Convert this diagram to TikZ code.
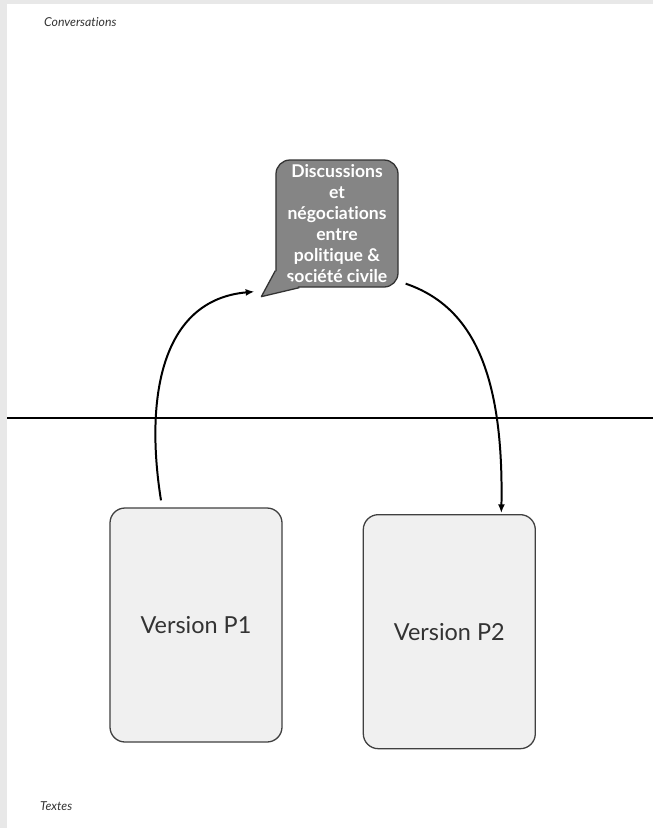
\documentclass[tikz,border=0pt]{standalone}
\usepackage{fontspec}
\setmainfont{Lato}[Ligatures={NoCommon}]
\usepackage{tikz}
\usetikzlibrary{positioning}
\usetikzlibrary{calc}
\usetikzlibrary{arrows.meta}

\begin{document}
\begin{tikzpicture}[x=0.03cm, y=-0.03cm,
    version/.style={draw=black!75, line width=1.1pt, fill=black!6, rounded corners=0.45cm,
      minimum width=5.16cm, minimum height=7.02cm, text=black!80, font=\fontsize{20}{24}\selectfont},
    bulle/.style={draw=black!80, line width=1.1pt, fill=black!48, rounded corners=0.42cm,
      minimum width=3.66cm, minimum height=3.81cm, inner sep=1pt, align=center, text=white,
      font=\bfseries\fontsize{15}{18}\selectfont},
    bord/.style={draw=black!80, line width=1.1pt, line join=round},
    fleche/.style={line width=1.7pt, -{Latex[length=2.6mm, width=2.1mm]}},
    titre/.style={anchor=west, text=black!80, font=\itshape\fontsize{10.5}{12}\selectfont}]
  \useasboundingbox (0,0) rectangle (653,828);
  \fill[black!9] (0,0) rectangle (653,828);
  \fill[white] (7,4) rectangle (653,828);

  % Noeuds principaux
  \node[titre] (conv) at (40,22) {Conversations};
  \node[titre] (textes) at (36,806) {Textes};
  \coordinate (ligneg) at (7,418);
  \coordinate (ligned) at (653,418);
  \draw[line width=2pt] (ligneg) -- (ligned);

  \node[version] (p1) at (196,625) {Version P1};
  \node[version, right=2.4cm of p1, yshift=-0.2cm] (p2) {Version P2};

  \node[bulle] (bulle) at (337,223.5) {Discussions\\et\\négociations\\entre\\politique \&\\société civile};
  \coordinate (queue1) at ($(bulle.south west)+(0,-17)$);
  \coordinate (pointe) at ($(bulle.south west)+(-14,9)$);
  \coordinate (queue2) at ($(bulle.south west)+(24,0)$);
  \fill[black!48] (queue1) -- (pointe) -- (queue2) -- ($(bulle.south west)+(14,-8)$) -- cycle;
  \draw[bord] (queue1) -- (pointe) -- (queue2);

  \coordinate (depart1) at ($(p1.north)+(-35,-7)$);
  \coordinate (arrivee1) at ($(pointe)+(-7,-5)$);
  \coordinate (depart2) at ($(bulle.south east)+(7,-4)$);
  \coordinate (arrivee2) at ($(p2.north)+(52,-1)$);
  \draw[fleche] (depart1) .. controls (145,400) and (160,300) .. (arrivee1);
  \draw[fleche] (depart2) .. controls (468,305) and (504,365) .. (arrivee2);
\end{tikzpicture}
\end{document}
